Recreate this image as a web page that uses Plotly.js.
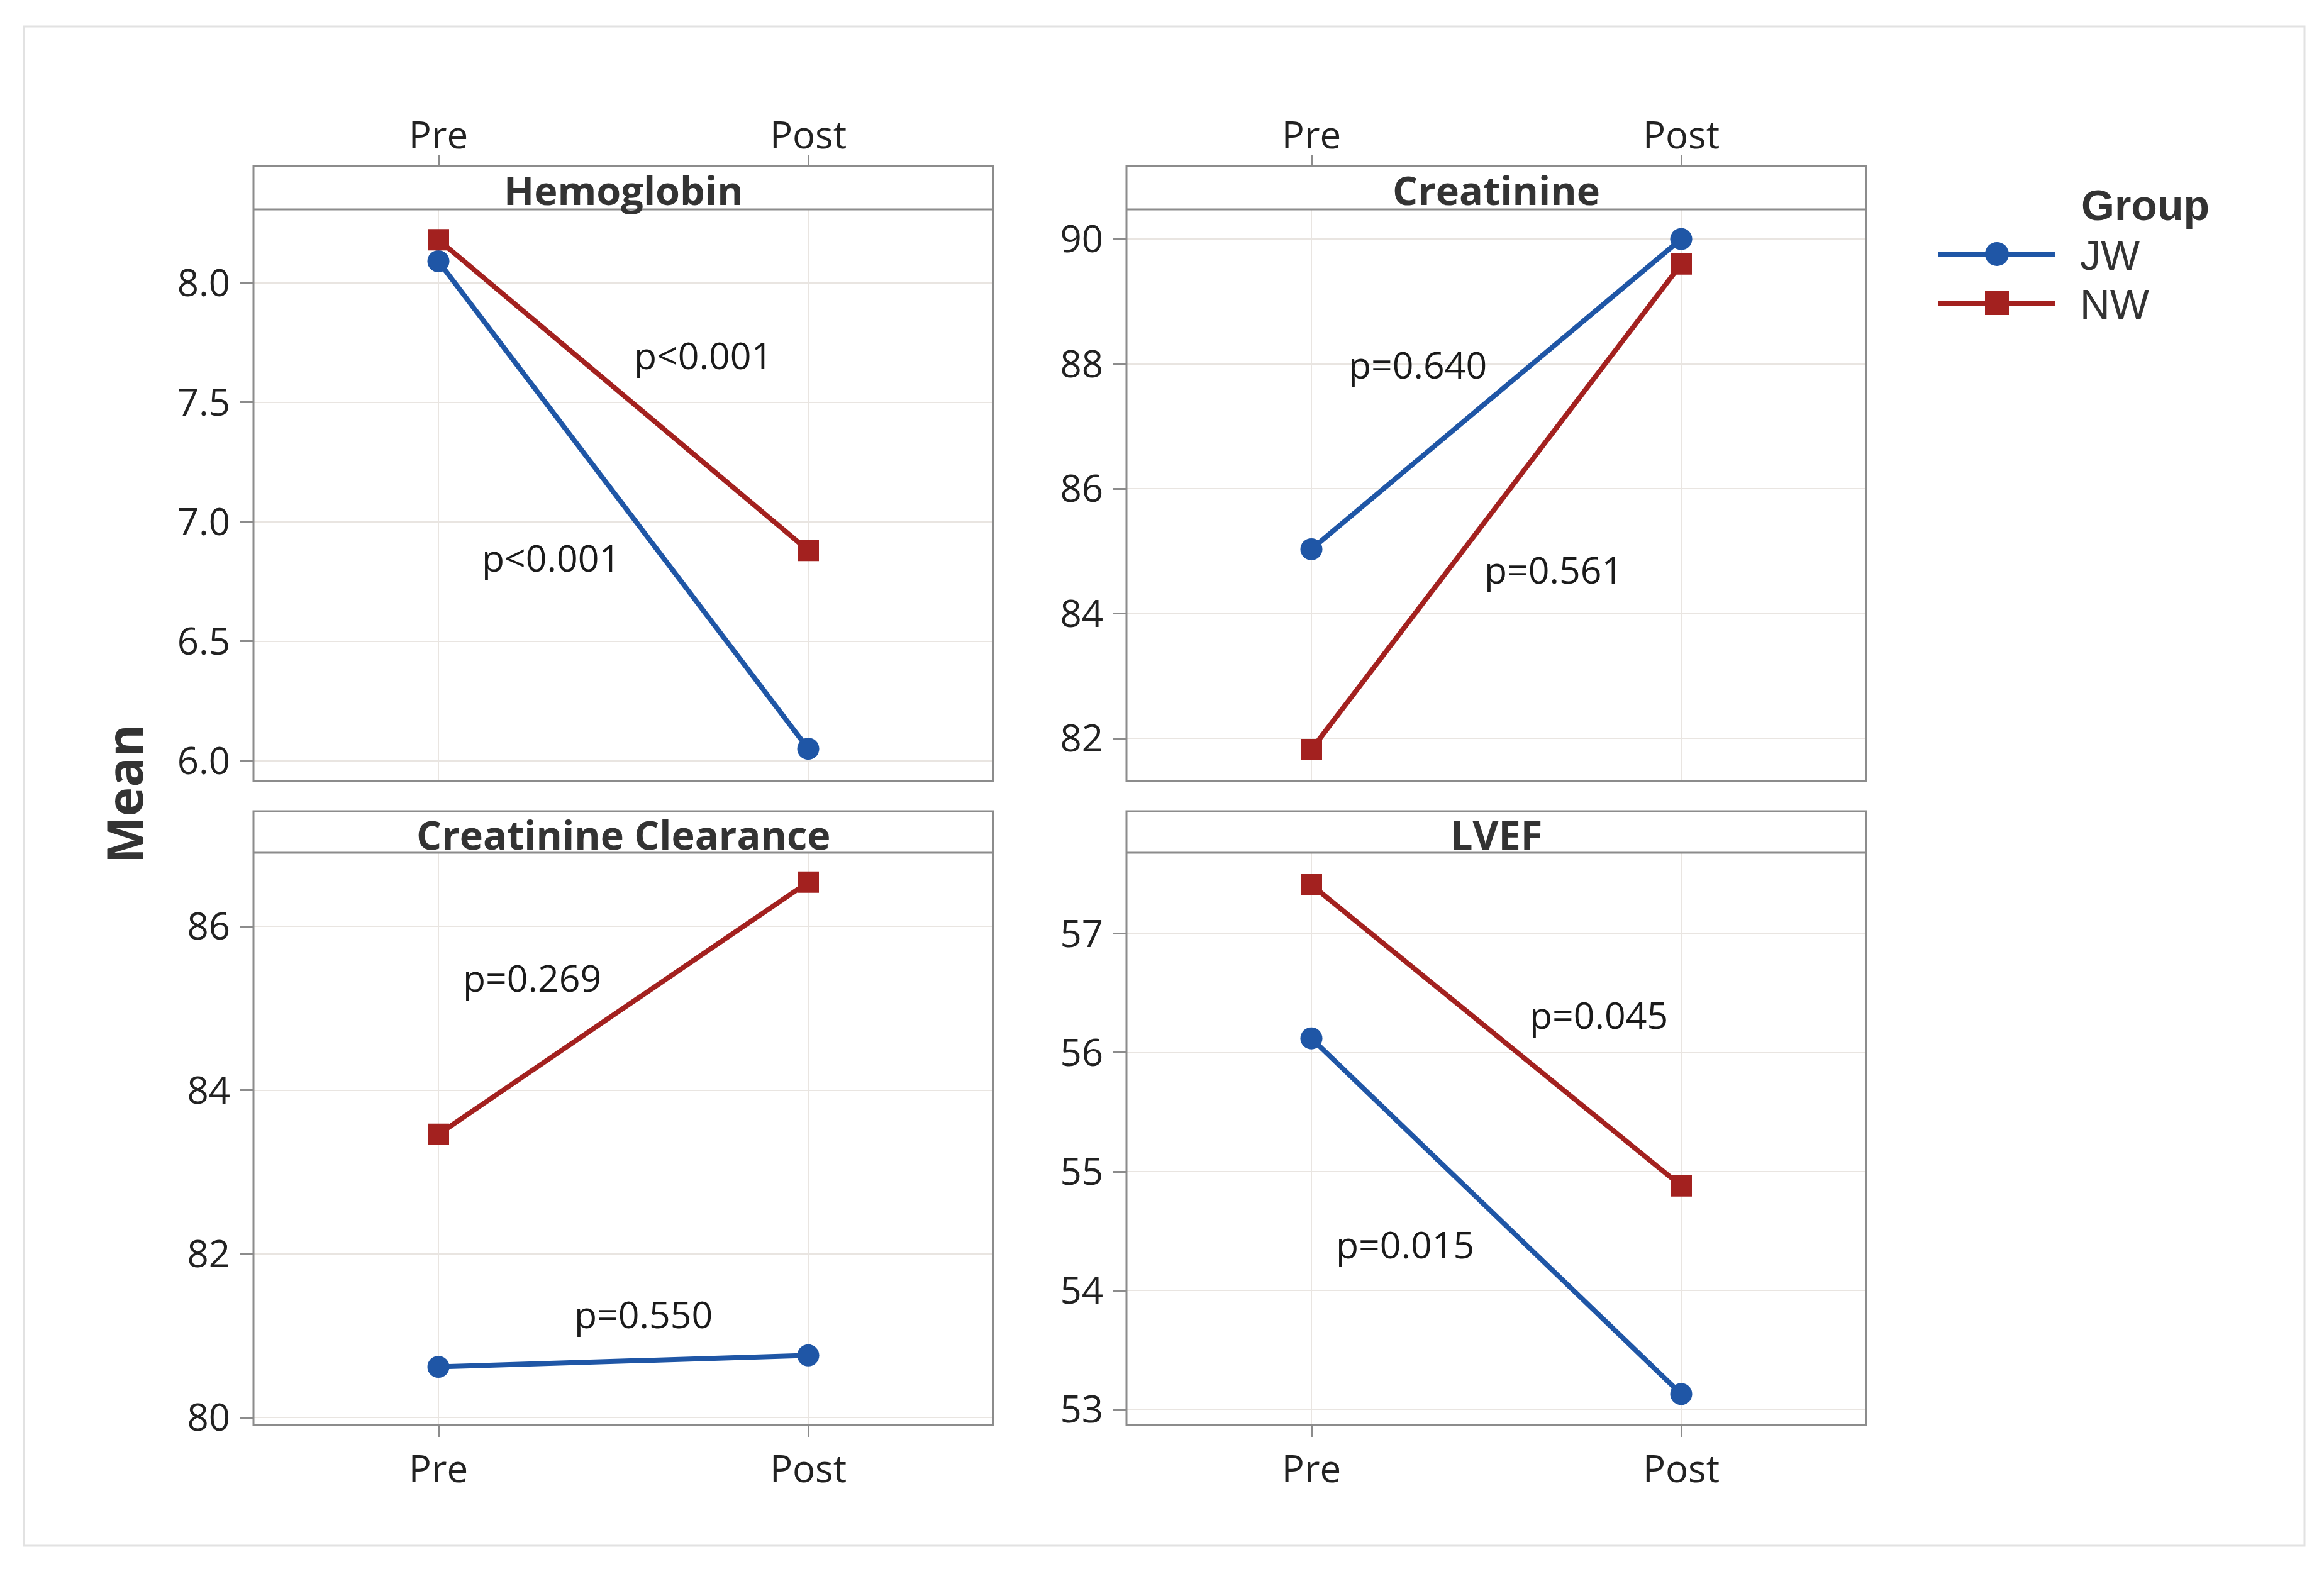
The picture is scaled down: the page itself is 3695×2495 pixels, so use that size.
<!DOCTYPE html>
<html>
<head>
<meta charset="utf-8">
<script src="https://cdn.plot.ly/plotly-3.0.1.min.js"></script>
<style>html,body{margin:0;padding:0;background:#fff;}#chart{width:3695px;height:2495px;}</style>
</head>
<body>
<div id="chart"></div>
<script>
// ---- data ----
var categories = ['Pre', 'Post'];
var panelTitles = ['Hemoglobin', 'Creatinine', 'Creatinine Clearance', 'LVEF'];
var groupNames = ['JW', 'NW'];
var legendTitle = 'Group';

var hemoglobinJW = [8.09, 6.05];
var hemoglobinNW = [8.18, 6.88];
var creatinineJW = [85.03, 90.0];
var creatinineNW = [81.82, 89.6];
var clearanceJW = [80.62, 80.76];
var clearanceNW = [83.46, 86.54];
var lvefJW = [56.12, 53.13];
var lvefNW = [57.41, 54.88];

// p-value labels: [text, x position (category index), y position]
var hemoglobinP = [['p<0.001', 0.716, 7.698], ['p<0.001', 0.304, 6.852]];
var creatinineP = [['p=0.640', 0.288, 88.0], ['p=0.561', 0.655, 84.71]];
var clearanceP = [['p=0.269', 0.254, 85.38], ['p=0.550', 0.554, 81.27]];
var lvefP = [['p=0.045', 0.777, 56.32], ['p=0.015', 0.254, 54.39]];

// y ranges and tick steps
var yRanges = [[5.915, 8.307], [81.316, 90.475], [79.91, 86.90], [52.87, 57.68]];
var yDticks = [0.5, 2, 2, 1];
var yFormats = ['.1f', 'd', 'd', 'd'];

// ---- styles ----
var blue = '#1f56a6';
var red = '#a3211f';
var gridColor = '#e9e5e1';
var frameColor = '#8c8c8c';
var font = 'Open Sans, Noto Sans, sans-serif';
var legendFont = 'Liberation Sans, Arial, sans-serif';
var W = 3695, H = 2495;

var jwSeries = [hemoglobinJW, creatinineJW, clearanceJW, lvefJW];
var nwSeries = [hemoglobinNW, creatinineNW, clearanceNW, lvefNW];
var pLabels = [hemoglobinP, creatinineP, clearanceP, lvefP];

function px2x(p) { return p / W; }
function px2y(p) { return 1 - p / H; }

// panel geometry in pixels
var colX = [[403, 1579], [1791, 2967]];
var rowY = [{strip: 264, top: 333, bottom: 1242}, {strip: 1290, top: 1356, bottom: 2266}];

var traces = [];
var annotations = [];
var shapes = [];
var layout = {
  width: W, height: H,
  margin: {l: 0, r: 0, t: 0, b: 0},
  paper_bgcolor: '#ffffff',
  plot_bgcolor: '#ffffff',
  showlegend: false,
  font: {family: font, color: '#222222'}
};

for (var i = 0; i < 4; i++) {
  var col = i % 2, row = Math.floor(i / 2);
  var sfx = i === 0 ? '' : String(i + 1);
  var xa = 'x' + sfx, ya = 'y' + sfx;
  var xd = [px2x(colX[col][0]), px2x(colX[col][1])];
  var yd = [px2y(rowY[row].bottom), px2y(rowY[row].top)];

  var xaxis = {
    domain: xd,
    type: 'category',
    range: [-0.5, 1.5],
    ticks: 'outside', ticklen: 18, tickwidth: 3, tickcolor: frameColor,
    showgrid: true, gridcolor: gridColor, gridwidth: 2,
    showline: false, zeroline: false,
    tickfont: {family: font, size: 60, color: '#222222'},
    fixedrange: true
  };
  if (row === 0) {
    xaxis.anchor = 'free';
    xaxis.position = px2y(rowY[row].strip);
    xaxis.side = 'top';
    xaxis.ticklabelstandoff = -14;
  } else {
    xaxis.anchor = ya;
    xaxis.side = 'bottom';
  }
  layout['xaxis' + sfx] = xaxis;
  layout['yaxis' + sfx] = {
    domain: yd,
    anchor: xa,
    range: yRanges[i],
    dtick: yDticks[i],
    tickformat: yFormats[i],
    ticks: 'outside', ticklen: 20, tickwidth: 3, tickcolor: frameColor,
    ticklabelstandoff: 4,
    showgrid: true, gridcolor: gridColor, gridwidth: 2,
    showline: false, zeroline: false,
    tickfont: {family: font, size: 60, color: '#222222'},
    fixedrange: true
  };

  traces.push({
    x: categories, y: jwSeries[i], xaxis: xa, yaxis: ya, name: groupNames[0],
    type: 'scatter', mode: 'lines+markers', cliponaxis: false,
    line: {color: blue, width: 8},
    marker: {symbol: 'circle', size: 35, color: blue}
  });
  traces.push({
    x: categories, y: nwSeries[i], xaxis: xa, yaxis: ya, name: groupNames[1],
    type: 'scatter', mode: 'lines+markers', cliponaxis: false,
    line: {color: red, width: 8},
    marker: {symbol: 'square', size: 34, color: red}
  });

  pLabels[i].forEach(function (p) {
    annotations.push({
      xref: xa, yref: ya, x: p[1], y: p[2], text: p[0], showarrow: false,
      xanchor: 'center', yanchor: 'middle',
      font: {family: font, size: 59, color: '#1a1a1a'}
    });
  });

  // strip title
  annotations.push({
    xref: 'paper', yref: 'paper',
    x: (xd[0] + xd[1]) / 2,
    y: px2y((rowY[row].strip + rowY[row].top) / 2 + 3),
    text: '<b>' + panelTitles[i] + '</b>', showarrow: false,
    xanchor: 'center', yanchor: 'middle',
    font: {family: font, size: 63, color: '#333333'}
  });

  // frame and strip
  shapes.push({
    type: 'rect', xref: 'paper', yref: 'paper', layer: 'above',
    x0: xd[0], x1: xd[1], y0: yd[0], y1: px2y(rowY[row].strip),
    line: {color: frameColor, width: 3}, fillcolor: 'rgba(0,0,0,0)'
  });
  shapes.push({
    type: 'line', xref: 'paper', yref: 'paper', layer: 'above',
    x0: xd[0], x1: xd[1], y0: yd[1], y1: yd[1],
    line: {color: frameColor, width: 3}
  });
}

// outer frame
shapes.push({
  type: 'rect', xref: 'paper', yref: 'paper', layer: 'below',
  x0: px2x(38), x1: px2x(3664), y0: px2y(2458), y1: px2y(42),
  line: {color: '#e2e2e2', width: 3}, fillcolor: 'rgba(0,0,0,0)'
});

// y axis title
annotations.push({
  xref: 'paper', yref: 'paper', x: px2x(196), y: px2y(1263),
  text: '<b>Mean</b>', textangle: -90, showarrow: false,
  xanchor: 'center', yanchor: 'middle',
  font: {family: font, size: 79, color: '#333333'}
});

// legend (Group): title and entries as text, symbols as shapes
var legendColors = [blue, red];
var legendSymbols = ['circle', 'rect'];
var legendRowY = [404, 482];
annotations.push({
  xref: 'paper', yref: 'paper', x: px2x(3308), y: px2y(326),
  text: '<b>' + legendTitle + '</b>', showarrow: false,
  xanchor: 'left', yanchor: 'middle', borderpad: 0,
  font: {family: legendFont, size: 68, color: '#333333'}
});
for (var k = 0; k < groupNames.length; k++) {
  annotations.push({
    xref: 'paper', yref: 'paper', x: px2x(3306), y: px2y(legendRowY[k] + 2),
    text: groupNames[k], showarrow: false,
    xanchor: 'left', yanchor: 'middle', borderpad: 0,
    font: {family: legendFont, size: 66, color: '#333333'}
  });
  shapes.push({
    type: 'line', xref: 'paper', yref: 'paper', layer: 'above',
    x0: px2x(3082), x1: px2x(3267), y0: px2y(legendRowY[k]), y1: px2y(legendRowY[k]),
    line: {color: legendColors[k], width: 8}
  });
  shapes.push({
    type: legendSymbols[k],
    xref: 'paper', yref: 'paper', layer: 'above',
    xsizemode: 'pixel', ysizemode: 'pixel',
    xanchor: px2x(3175), yanchor: px2y(legendRowY[k]),
    x0: -19, x1: 19, y0: -19, y1: 19,
    line: {width: 0}, fillcolor: legendColors[k]
  });
}

layout.annotations = annotations;
layout.shapes = shapes;

Plotly.newPlot('chart', traces, layout, {staticPlot: true, displayModeBar: false});
</script>
</body>
</html>
